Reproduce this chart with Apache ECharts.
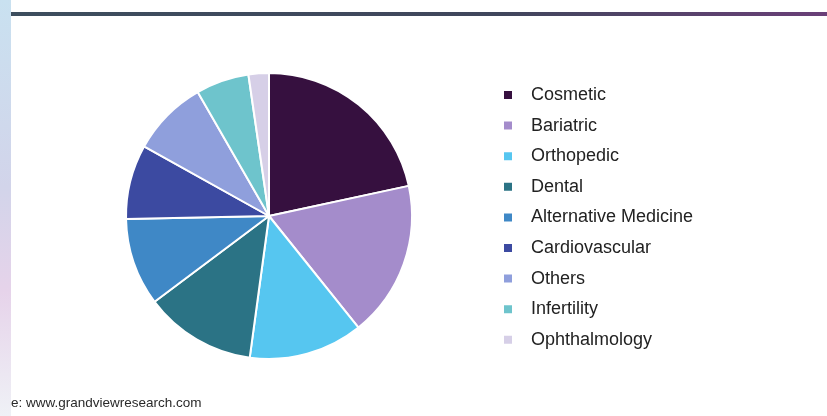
<!DOCTYPE html>
<html>
<head>
<meta charset="utf-8">
<script src="https://cdn.jsdelivr.net/npm/echarts@6/dist/echarts.min.js"></script>
<style>
  html, body { margin: 0; padding: 0; background: #ffffff; }
  #chart { width: 827px; height: 416px; }
</style>
</head>
<body>
<div id="chart"></div>
<script>
const categories = ['Cosmetic', 'Bariatric', 'Orthopedic', 'Dental', 'Alternative Medicine', 'Cardiovascular', 'Others', 'Infertility', 'Ophthalmology'];
const shares = [21.6, 17.6, 12.9, 12.6, 9.9, 8.4, 8.6, 6.0, 2.3];
const colors = ['#36103f', '#a48ccb', '#56c6f0', '#2b7385', '#3f88c6', '#3c4aa1', '#8f9fdc', '#6ec4cc', '#d6cfe7'];
const sourceText = 'e: www.grandviewresearch.com';

const chart = echarts.init(document.getElementById('chart'));
chart.setOption({
  backgroundColor: '#ffffff',
  animation: false,
  color: colors,
  title: {
    text: sourceText,
    left: 6,
    top: 391,
    textStyle: { fontFamily: 'Liberation Sans', fontSize: 13.5, fontWeight: 'normal', color: '#2a2a2a' }
  },
  graphic: [
    {
      type: 'rect',
      shape: { x: 0, y: 0, width: 11, height: 416 },
      style: {
        fill: new echarts.graphic.LinearGradient(0, 0, 0, 1, [
          { offset: 0, color: '#c9e1f0' },
          { offset: 0.45, color: '#d2d4ea' },
          { offset: 0.7, color: '#e6d3ea' },
          { offset: 1, color: '#eff1f6' }
        ])
      },
      silent: true
    },
    {
      type: 'rect',
      shape: { x: 11, y: 12, width: 816, height: 4 },
      style: {
        fill: new echarts.graphic.LinearGradient(0, 0, 1, 0, [
          { offset: 0, color: '#3d4e5e' },
          { offset: 0.6, color: '#40465c' },
          { offset: 1, color: '#6a3f78' }
        ])
      },
      silent: true
    }
  ],
  legend: {
    orient: 'vertical',
    left: 497,
    top: 81,
    icon: 'rect',
    itemWidth: 10,
    itemHeight: 10,
    itemGap: 12.6,
    selectedMode: false,
    data: categories,
    textStyle: {
      fontFamily: 'Liberation Sans',
      fontSize: 18,
      color: '#222222',
      lineHeight: 18,
      padding: [0, 0, 0, 13]
    }
  },
  series: [{
    type: 'pie',
    center: [269, 216],
    radius: [0, 143],
    startAngle: 90,
    clockwise: true,
    label: { show: false },
    labelLine: { show: false },
    itemStyle: { borderColor: '#ffffff', borderWidth: 2 },
    emphasis: { disabled: true },
    data: categories.map((c, i) => ({ name: c, value: shares[i] }))
  }]
});
</script>
</body>
</html>
